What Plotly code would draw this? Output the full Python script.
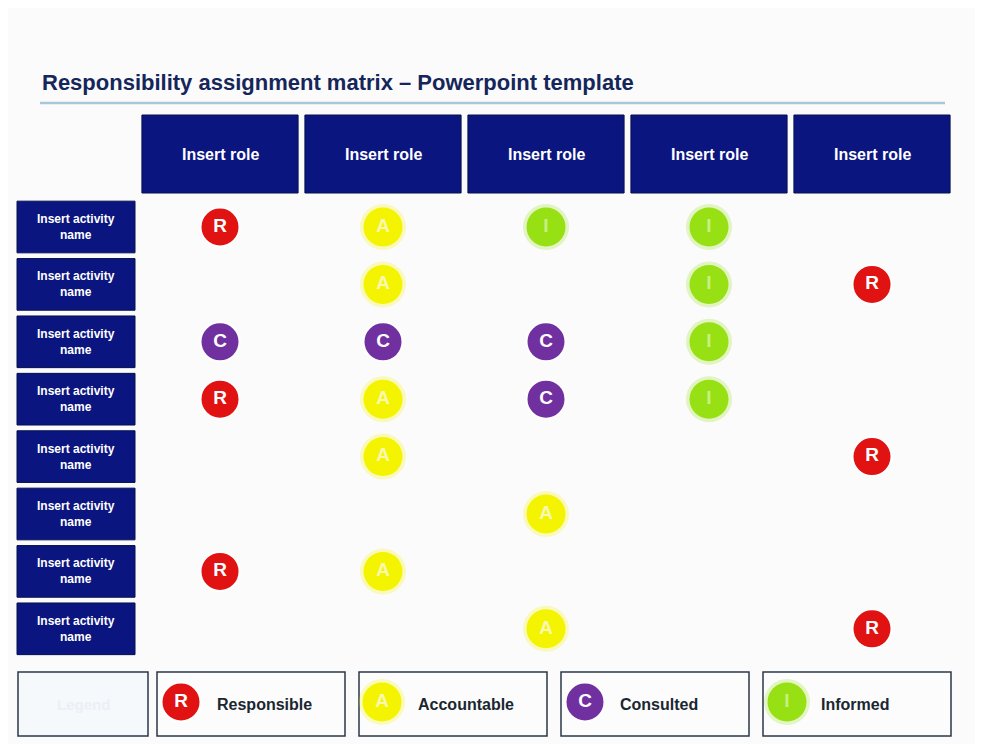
import plotly.graph_objects as go

roles = ["Insert role"] * 5
activities = ["Insert activity<br>name"] * 8
# RACI matrix: one row per activity, one entry per role ("" = none)
matrix = [
    ["R", "A", "I", "I", ""],
    ["", "A", "", "I", "R"],
    ["C", "C", "C", "I", ""],
    ["R", "A", "C", "I", ""],
    ["", "A", "", "", "R"],
    ["", "", "A", "", ""],
    ["R", "A", "", "", ""],
    ["", "", "A", "", "R"],
]
legend_codes = ["R", "A", "C", "I"]
legend_names = ["Responsible", "Accountable", "Consulted", "Informed"]

colors = {"R": "#e01212", "A": "#f4f400", "C": "#7030a0", "I": "#96e014"}
letter_col = {"R": "white", "A": "#f8f8b0", "C": "white", "I": "#c8f080"}
navy = "#0a1580"
font = "Liberation Sans, Arial, sans-serif"

# pixel <-> axis units (column spacing 163px from x=220, row spacing 57.4px from y=227)
def px(x):
    return (x - 220) / 163.0

def py(y):
    return (y - 227) / 57.4

OFF = 8  # page body margin

fig = go.Figure()
shapes = []
annotations = []

# page frame
shapes.append(dict(type="rect", xref="paper", yref="paper", x0=-0.01, x1=0.994, y0=0.0, y1=1.01,
                   fillcolor="#fbfbfb", line_width=0, layer="below"))
# title rule
shapes.append(dict(type="line", x0=px(40), x1=px(945), y0=py(103), y1=py(103),
                   line=dict(color="#a6c8d8", width=2.5)))
annotations.append(dict(x=px(40), y=py(82), text="<b>Responsibility assignment matrix – Powerpoint template</b>",
                        showarrow=False, xanchor="left", font=dict(family=font, size=22, color="#15265a")))

# header boxes
for j, r in enumerate(roles):
    shapes.append(dict(type="rect", x0=j - 0.479, x1=j + 0.479, y0=py(115), y1=py(193),
                       fillcolor=navy, line=dict(color="#06104f", width=1)))
    annotations.append(dict(x=j, y=py(154), text=f"<b>{r}</b>", showarrow=False,
                            font=dict(family=font, size=16, color="white")))

# activity boxes
for i, a in enumerate(activities):
    shapes.append(dict(type="rect", x0=px(17), x1=px(135), y0=i - 0.45, y1=i + 0.45,
                       fillcolor=navy, line=dict(color="#06104f", width=1)))
    annotations.append(dict(x=px(76), y=i, text=f"<b>{a}</b>", showarrow=False,
                            font=dict(family=font, size=12, color="white")))

# matrix markers
for code in legend_codes:
    xs, ys = [], []
    for i, row in enumerate(matrix):
        for j, c in enumerate(row):
            if c == code:
                xs.append(j)
                ys.append(i)
    line = dict(color="white", width=2) if code in ("R", "C") else dict(color=colors[code], width=0)
    if code in ("A", "I"):
        fig.add_trace(go.Scatter(x=xs, y=ys, mode="markers", hoverinfo="skip",
                                 marker=dict(size=46, color=colors[code], opacity=0.25)))
    fig.add_trace(go.Scatter(x=xs, y=ys, mode="markers+text", text=[f"<b>{code}</b>"] * len(xs),
                             textfont=dict(family=font, size=19, color=letter_col[code]),
                             marker=dict(size=39, color=colors[code], line=line), hoverinfo="skip"))

# legend
box_x = [(18, 148), (157, 345), (359, 547), (561, 749), (763, 951)]
for x0, x1 in box_x:
    shapes.append(dict(type="rect", x0=px(x0), x1=px(x1), y0=py(672), y1=py(736), layer="below",
                       fillcolor="#f6f9fc" if x0 == 18 else "#fcfcfc", line=dict(color="#2a3848", width=1.5)))
annotations.append(dict(x=px(83), y=py(704), text="<b>Legend</b>", showarrow=False,
                        font=dict(family=font, size=15, color="#eaf0f5")))
leg_cx = [181, 382, 585, 787]
leg_tx = [264, 466, 659, 855]
for code, name, cx, tx in zip(legend_codes, legend_names, leg_cx, leg_tx):
    line = dict(color="white", width=2) if code in ("R", "C") else dict(color=colors[code], width=0)
    if code in ("A", "I"):
        fig.add_trace(go.Scatter(x=[px(cx)], y=[py(702)], mode="markers", hoverinfo="skip",
                                 marker=dict(size=46, color=colors[code], opacity=0.25)))
    fig.add_trace(go.Scatter(x=[px(cx)], y=[py(702)], mode="markers+text", text=[f"<b>{code}</b>"],
                             textfont=dict(family=font, size=19, color=letter_col[code]),
                             marker=dict(size=39, color=colors[code], line=line), hoverinfo="skip"))
    annotations.append(dict(x=px(tx), y=py(704), text=f"<b>{name}</b>", showarrow=False,
                            font=dict(family=font, size=16, color="#1a2630")))

fig.update_layout(
    width=983 - OFF, height=744 - OFF, margin=dict(l=0, r=0, t=0, b=0),
    paper_bgcolor="#f56a14", plot_bgcolor="rgba(0,0,0,0)",
    showlegend=False, shapes=shapes, annotations=annotations,
    xaxis=dict(range=[px(OFF), px(983)], visible=False, fixedrange=True),
    yaxis=dict(range=[py(744), py(OFF)], visible=False, fixedrange=True),
)
fig.write_html("out.html")
